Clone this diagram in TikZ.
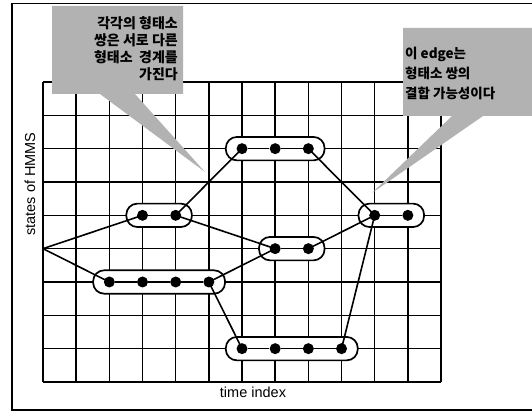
\documentclass[tikz,border=0pt]{standalone}
\usepackage{fontspec}
\setmainfont{Liberation Sans}
\newfontfamily\kr{Noto Sans CJK KR}
\usetikzlibrary{fit}
\pgfdeclarelayer{gridl}
\pgfdeclarelayer{capl}
\pgfdeclarelayer{edgel}
\pgfdeclarelayer{topl}
\pgfsetlayers{gridl,capl,edgel,main,topl}
\tikzset{
  dot/.style={circle,fill=black,inner sep=0pt,minimum size=11pt},
  capsule/.style={draw,line width=1.7pt,fill=white,rounded corners=11pt,inner xsep=10.5pt,inner ysep=6pt},
  link/.style={line width=1.6pt},
  gridline/.style={line width=1.5pt},
  frameline/.style={line width=1.4pt},
  callout/.style={fill=black!30},
  krtext/.style={font=\kr\bfseries\fontsize{14}{17}\selectfont,inner sep=0pt},
  axislabel/.style={font=\fontsize{14.5}{17}\selectfont,inner sep=0pt}
}
\begin{document}
\begin{tikzpicture}[x=1pt,y=1pt]
\useasboundingbox (0,0) rectangle (532,411);
\begin{scope}
\clip (0,0) rectangle (532,411);
\begin{pgfonlayer}{gridl}
\fill[white] (0,0) rectangle (532,411);
\draw[frameline] (560,407.5) -- (12,407.5) -- (12,1) -- (560,1);
\foreach \i in {0,...,12} \draw[gridline] ({43+33.17*\i},29) -- ({43+33.17*\i},329);
\foreach \j in {0,...,9} \draw[gridline] (43,{29+33.333*\j}) -- (441,{29+33.333*\j});
\end{pgfonlayer}
% nodes
\coordinate (s) at (43,{329-33.333*5});
\node[dot] (a1) at ({43+33.17*3},{329-33.333*4}) {};
\node[dot] (a2) at ({43+33.17*4},{329-33.333*4}) {};
\node[dot] (b1) at ({43+33.17*2},{329-33.333*6}) {};
\node[dot] (b2) at ({43+33.17*3},{329-33.333*6}) {};
\node[dot] (b3) at ({43+33.17*4},{329-33.333*6}) {};
\node[dot] (b4) at ({43+33.17*5},{329-33.333*6}) {};
\node[dot] (c1) at ({43+33.17*6},{329-33.333*2}) {};
\node[dot] (c2) at ({43+33.17*7},{329-33.333*2}) {};
\node[dot] (c3) at ({43+33.17*8},{329-33.333*2}) {};
\node[dot] (d1) at ({43+33.17*7},{329-33.333*5}) {};
\node[dot] (d2) at ({43+33.17*8},{329-33.333*5}) {};
\node[dot] (e1) at ({43+33.17*6},{329-33.333*8}) {};
\node[dot] (e2) at ({43+33.17*7},{329-33.333*8}) {};
\node[dot] (e3) at ({43+33.17*8},{329-33.333*8}) {};
\node[dot] (e4) at ({43+33.17*9},{329-33.333*8}) {};
\node[dot] (f1) at ({43+33.17*10},{329-33.333*4}) {};
\node[dot] (f2) at ({43+33.17*11},{329-33.333*4}) {};
% capsules
\begin{pgfonlayer}{capl}
\node[capsule,fit=(a1)(a2)] (capA) {};
\node[capsule,fit=(b1)(b4)] (capB) {};
\node[capsule,fit=(c1)(c3)] (capC) {};
\node[capsule,fit=(d1)(d2)] (capD) {};
\node[capsule,fit=(e1)(e4)] (capE) {};
\node[capsule,fit=(f1)(f2)] (capF) {};
\end{pgfonlayer}
% links
\begin{pgfonlayer}{edgel}
\draw[link] (a1) -- (a2);
\draw[link] (b1) -- (b2) -- (b3) -- (b4);
\draw[link] (c1) -- (c2) -- (c3);
\draw[link] (d1) -- (d2);
\draw[link] (e1) -- (e2) -- (e3) -- (e4);
\draw[link] (f1) -- (f2);
\draw[link] (s) -- (a1.center);
\draw[link] (s) -- (b1.center);
\draw[link] (a2.center) -- (c1.center);
\draw[link] (a2.center) -- (d1.center);
\draw[link] (b4.center) -- (d1.center);
\draw[link] (b4.center) -- (e1.center);
\draw[link] (c3.center) -- (f1.center);
\draw[link] (d2.center) -- (f1.center);
\draw[link] (e4.center) -- (f1.center);
\end{pgfonlayer}
% axis labels
\node[axislabel,rotate=90] (ylab) at (30,227) {states of HMMS};
\node[axislabel,anchor=base] (xlab) at (253,13) {time index};
% callouts
\begin{pgfonlayer}{topl}
\fill[callout] (52,405) -- (183,405) -- (183,317) -- (135,317) -- (205,239) -- (100,317) -- (52,317) -- cycle;
\node[krtext,align=right,anchor=east] (t1) at (178,362) {각각의 형태소\\쌍은 서로 다른\\형태소\ \ 경계를\\가진다};
\fill[callout] (403,383) -- (545,383) -- (545,295) -- (483,295) -- (372,218) -- (452,295) -- (403,295) -- cycle;
\node[krtext,align=left,anchor=west,font=\kr\bfseries\fontsize{13.5}{20}\selectfont] (t2) at (405,338) {이 edge는\\형태소 쌍의\\결합 가능성이다};
\end{pgfonlayer}
\end{scope}
\end{tikzpicture}
\end{document}
